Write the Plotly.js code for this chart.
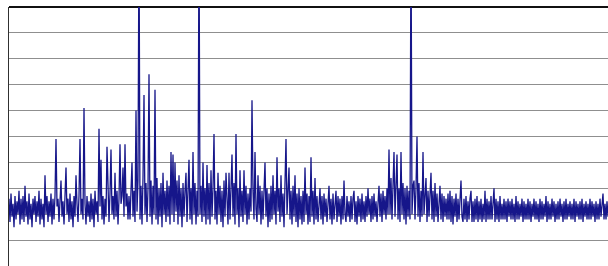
<!DOCTYPE html>
<html>
<head>
<meta charset="utf-8">
<script src="https://cdn.plot.ly/plotly-3.0.1.min.js"></script>
<style>html,body{margin:0;padding:0;background:#fff;}#chart{width:608px;height:266px;}</style>
</head>
<body>
<div id="chart"></div>
<script>
// Spectrum amplitude (arbitrary units, tenths of a grid division), one sample per column
const amplitude = [
26,17,28,19,24,15,27,18,25,20,29,16,26,18,27,17,31,19,25,16,
28,18,24,15,26,20,27,17,25,19,29,16,26,18,24,15,35,20,27,17,
25,19,28,16,26,18,27,49,23,26,17,28,33,19,25,16,27,38,20,26,
17,28,18,25,15,27,19,35,24,17,27,49,20,26,18,61,24,16,27,19,
25,17,28,18,26,15,29,20,25,17,53,23,41,18,27,16,26,19,46,24,
17,28,45,20,27,18,36,19,29,16,26,47,24,27,38,19,47,23,28,18,
27,18,30,40,19,29,17,60,21,33,130,18,31,16,34,66,20,32,17,30,
74,19,33,16,31,20,68,18,34,16,30,19,32,15,36,20,29,17,33,19,
31,16,44,20,43,17,40,21,33,16,35,19,30,15,32,19,29,36,17,31,
41,18,30,16,44,20,32,16,29,19,130,20,31,17,40,19,30,16,39,18,
32,16,37,19,30,51,18,29,16,36,20,31,17,29,15,33,19,36,21,16,
36,18,30,43,19,32,16,51,20,30,15,37,19,29,17,37,20,31,16,28,
18,30,21,64,29,18,44,22,17,35,20,31,16,29,18,27,40,19,30,15,
28,17,31,18,35,20,29,16,42,21,30,17,35,19,28,15,32,49,20,30,
38,18,29,16,31,19,35,17,28,15,30,18,27,16,29,17,38,20,28,16,
27,17,42,19,29,16,34,18,27,17,26,30,18,27,16,28,19,26,17,27,
31,18,26,16,28,18,25,29,17,27,19,26,16,27,18,33,20,17,27,19,
25,17,27,18,26,29,17,25,16,27,19,26,17,28,18,25,17,27,19,30,
20,26,17,27,18,28,19,25,17,27,31,19,28,17,29,20,27,18,30,20,
45,20,34,18,31,44,19,32,43,18,30,17,44,20,32,18,30,16,31,19,
29,18,130,20,31,33,18,30,50,19,32,17,29,19,44,20,30,34,17,29,
19,31,36,18,29,17,32,19,28,17,27,31,18,28,17,27,19,26,18,28,
18,29,17,27,16,26,19,28,17,26,18,27,33,19,17,26,18,27,17,25,
18,26,29,17,25,17,26,18,27,17,25,18,26,17,24,18,29,17,26,18,
25,18,27,18,24,30,17,26,18,25,17,27,18,24,18,26,18,25,17,26,
19,25,18,26,18,24,17,27,18,25,18,24,19,26,17,25,18,24,18,26,
18,25,17,24,19,26,18,25,18,24,17,26,18,25,18,24,19,27,17,25,
18,24,18,26,19,25,17,24,18,25,18,26,19,24,17,25,18,26,18,24,
19,25,18,24,18,26,17,25,19,24,18,25,18,26,17,24,19,25,18,24,
18,26,18,25,19,24,17,25,18,24,18,26,19,25,28,18,24,18,25,19
];
const sampleIndex = amplitude.map((_, i) => i);

const trace = {
  x: sampleIndex,
  y: amplitude,
  type: 'scatter',
  mode: 'lines',
  line: {color: 'rgb(22,22,138)', width: 1.3},
  hoverinfo: 'none'
};

const layout = {
  width: 608,
  height: 266,
  margin: {l: 9, r: 0, t: 7, b: 0, pad: 0},
  paper_bgcolor: '#ffffff',
  plot_bgcolor: '#ffffff',
  showlegend: false,
  xaxis: {
    range: [0, amplitude.length - 1],
    showgrid: false,
    zeroline: false,
    showticklabels: false,
    ticks: '',
    showline: false
  },
  yaxis: {
    range: [0, 100],
    tick0: 0,
    dtick: 10,
    showgrid: true,
    gridcolor: '#8f8f8f',
    gridwidth: 1,
    zeroline: false,
    showticklabels: false,
    ticks: '',
    showline: true,
    linecolor: '#303030',
    linewidth: 1
  },
  shapes: [{
    type: 'line', xref: 'paper', yref: 'paper',
    x0: 0, x1: 1, y0: 1, y1: 1,
    line: {color: '#111111', width: 2},
    layer: 'below'
  }]
};

Plotly.newPlot('chart', [trace], layout, {displayModeBar: false, staticPlot: true});
</script>
</body>
</html>
